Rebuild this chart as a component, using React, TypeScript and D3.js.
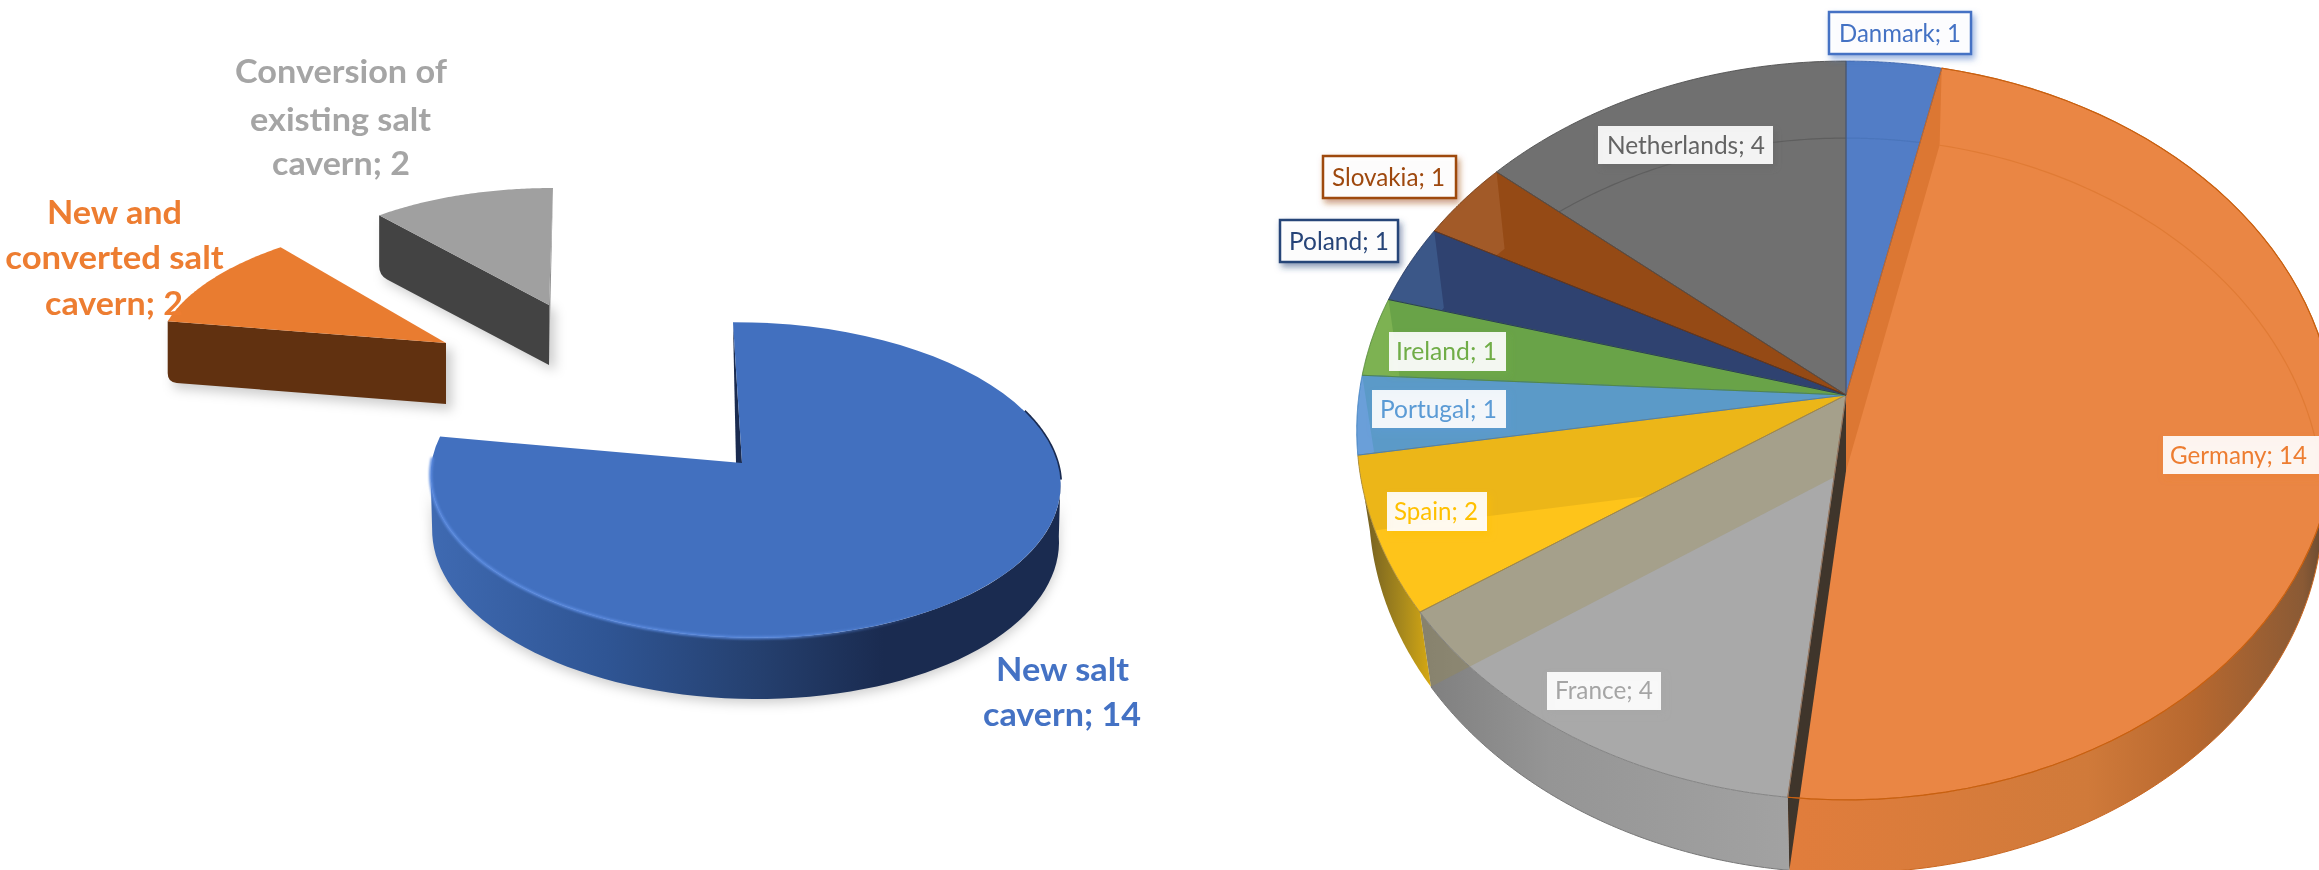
import React from "react";
import * as d3 from "d3";

// Storage project counts by cavern type (exploded 3D pie on the left)
const typeCategories = ["New salt cavern", "New and converted salt cavern", "Conversion of existing salt cavern"];
const typeValues = [14, 2, 2];
const typeLineWords = [[2, 2], [2, 2, 2], [2, 2, 2]];

// Storage project counts by country (translucent 3D pie on the right)
const countryCategories = ["Danmark", "Germany", "France", "Spain", "Portugal", "Ireland", "Poland", "Slovakia", "Netherlands"];
const countryValues = [1, 14, 4, 2, 1, 1, 1, 1, 4];

// Text colours of the series
const typeColors = ["#4472c4", "#ed7d31", "#a5a5a5"];
const countryColors = ["#4472c4", "#ed7d31", "#a5a5a5", "#ffc000", "#5b9bd5", "#70ad47", "#264478", "#9e480e", "#636363"];

// Seen colours of the translucent top surface
const countryTop = ["#527dc6", "#ea8644", "#a9a9a9", "#fec41a", "#6a9fd9", "#7db252", "#3b5788", "#a25a28", "#707070"];
const countryInner = [null, null, null, null, "#5b9ac8", "#69a348", "#2f4270", "#954a15", null];
const countryStroke = ["#3f66ad", "#c9661f", "#7d7d7d", "#a8893a", "#3f7fc0", "#55883a", "#24355c", "#6e3510", "#505050"];

type Cam = { cx: number; cy: number; R: number; S: number; k: number; j: number; sk: number; D: number; m: number };

// Perspective cameras of the pie discs
const blueCam: Cam = { cx: 742, cy: 463, R: 313, S: 156, k: 0.1076, j: 0.008, sk: 10, D: 55.8, m: 0.005 };
const orangeCam: Cam = { cx: 446, cy: 343, R: 287, S: 125, k: 0, j: 0, sk: -25, D: 61, m: 0 };
const grayCam: Cam = { cx: 549, cy: 305, R: 269, S: 117, k: 0, j: 0, sk: -4, D: 60, m: 0 };
const countryCam: Cam = { cx: 1846, cy: 395, R: 487, S: 366, k: 0.096, j: 0, sk: 0, D: 78, m: 0.025 };

const project = (c: Cam, a: number, z = 0, r = 1): [number, number] => {
  const u = Math.sin(a) * r;
  const v = -Math.cos(a) * r;
  const d = 1 - c.k * v - c.j * u + c.m * z;
  return [c.cx + (c.R * u + c.sk * v) / d, c.cy + (c.S * v + c.D * z) / d];
};

const arc = (c: Cam, a0: number, a1: number, z = 0, n = 72): [number, number][] => {
  const t = d3.scaleLinear().domain([0, n]).range([a0, a1]);
  return d3.range(n + 1).map((i) => project(c, t(i), z));
};

const closed = d3.line().curve(d3.curveLinearClosed);
const open = d3.line();
const rad = (deg: number) => (deg * Math.PI) / 180;

const pieLayout = d3.pie<number>().sort(null).startAngle(0).endAngle(2 * Math.PI);
const typeArcs = pieLayout(typeValues);
const countryArcs = pieLayout(countryValues);

const sector = (c: Cam, a0: number, a1: number) => closed([project(c, 0, 0, 0), ...arc(c, a0, a1)])!;
const radialFace = (c: Cam, a: number) =>
  closed([project(c, 0, 0, 0), project(c, a, 0), project(c, a, 1), project(c, 0, 1, 0)])!;
const rimWall = (c: Cam, a0: number, a1: number) => closed([...arc(c, a0, a1), ...arc(c, a1, a0, 1)])!;

// Radial face whose lower outer corner is softened by the bevel
const bevelledFace = (c: Cam, a: number, radius: number) => {
  const top = project(c, a, 0);
  const foot = project(c, a, 1);
  const apex = project(c, 0, 0, 0);
  const apexFoot = project(c, 0, 1, 0);
  const toward = (p: [number, number], q: [number, number], len: number): [number, number] => {
    const h = Math.hypot(q[0] - p[0], q[1] - p[1]);
    return [p[0] + ((q[0] - p[0]) * len) / h, p[1] + ((q[1] - p[1]) * len) / h];
  };
  const before = toward(foot, top, radius);
  const after = toward(foot, apexFoot, radius);
  const p = d3.path();
  p.moveTo(apex[0], apex[1]);
  p.lineTo(top[0], top[1]);
  p.lineTo(before[0], before[1]);
  p.quadraticCurveTo(foot[0], foot[1], after[0], after[1]);
  p.lineTo(apexFoot[0], apexFoot[1]);
  p.closePath();
  return p.toString();
};

// Multi-line bold labels of the left pie
const typeLabelX = [[1062.5, 1062], [114.5, 114.5, 114], [341, 340.5, 341]];
const typeLabelW = [[133, 158], [135, 218.5, 138], [212, 181, 138]];
const typeLabelY = [[681, 726], [224, 269, 315], [83, 131, 175]];

// Boxed labels of the right pie: box x, y, width, height, text x, text width, baseline
const boxX = [1829, 2163, 1547, 1387, 1372, 1389, 1280, 1323, 1598];
const boxY = [12, 436, 672, 492, 390, 332, 220, 156, 126];
const boxW = [142, 156, 114, 100, 134, 117, 118, 133, 175];
const boxH = [42, 38, 38, 39, 38, 39, 42, 42, 38];
const textX = [1839, 2170, 1555, 1394, 1380, 1396, 1289, 1332, 1607];
const textW = [122, 137, 98, 84, 117, 101, 100, 113, 158];
const baseY = [42, 464, 699, 520, 418, 360, 250, 186, 154];
const framed = [true, false, false, false, false, false, true, true, false];

const wrapLines = (label: string, counts: number[]) => {
  const words = label.split(" ");
  let at = 0;
  return counts.map((n) => {
    const line = words.slice(at, at + n).join(" ");
    at += n;
    return line;
  });
};

export default function App() {
  const [blue, orange, gray] = typeArcs;
  const cc = countryCam;

  return (
    <svg
      width={2319}
      height={870}
      viewBox="0 0 2319 870"
      style={{ position: "absolute", left: 0, top: 0, background: "#fff" }}
      fontFamily="Lato"
    >
      <defs>
        <linearGradient id="blueWall" gradientUnits="userSpaceOnUse" x1={429} x2={1060} y1={0} y2={0}>
          <stop offset="0" stopColor="#3f6ab2" />
          <stop offset="0.28" stopColor="#2f5594" />
          <stop offset="0.52" stopColor="#25406f" />
          <stop offset="0.72" stopColor="#1a2b50" />
          <stop offset="1" stopColor="#1a2b50" />
        </linearGradient>
        <linearGradient id="blueBevel" gradientUnits="userSpaceOnUse" x1={429} x2={930} y1={0} y2={0}>
          <stop offset="0" stopColor="#5b8be0" stopOpacity="1" />
          <stop offset="0.7" stopColor="#5b8be0" stopOpacity="0.85" />
          <stop offset="1" stopColor="#5b8be0" stopOpacity="0" />
        </linearGradient>
        <linearGradient id="germanyWall" gradientUnits="userSpaceOnUse" x1={1790} x2={2330} y1={0} y2={0}>
          <stop offset="0" stopColor="#e17d3c" />
          <stop offset="0.55" stopColor="#d07a3a" />
          <stop offset="0.75" stopColor="#b7682f" />
          <stop offset="0.95" stopColor="#8a5a35" />
          <stop offset="1" stopColor="#5e4630" />
        </linearGradient>
        <linearGradient id="franceWall" gradientUnits="userSpaceOnUse" x1={1420} x2={1790} y1={0} y2={0}>
          <stop offset="0" stopColor="#7e7e7e" />
          <stop offset="0.35" stopColor="#959595" />
          <stop offset="1" stopColor="#a2a2a2" />
        </linearGradient>
        <linearGradient id="spainWall" gradientUnits="userSpaceOnUse" x1={1360} x2={1432} y1={0} y2={0}>
          <stop offset="0" stopColor="#6d5a22" />
          <stop offset="0.6" stopColor="#a98a1c" />
          <stop offset="1" stopColor="#d8aa12" />
        </linearGradient>
        <filter id="softShadow" x="-20%" y="-20%" width="140%" height="140%">
          <feGaussianBlur stdDeviation="6" />
        </filter>
        <filter id="bevelBlur" x="-5%" y="-5%" width="110%" height="110%">
          <feGaussianBlur stdDeviation="0.9" />
        </filter>
        {countryColors.map((col, i) => (
          <filter key={i} id={`boxShadow${i}`} x="-20%" y="-30%" width="140%" height="170%">
            <feDropShadow dx={2.5} dy={4} stdDeviation={3} floodColor={col} floodOpacity={0.55} />
          </filter>
        ))}
        {countryArcs.map((d, i) => (
          <clipPath key={i} id={`slice${i}`}>
            <path d={sector(cc, d.startAngle, d.endAngle)} />
          </clipPath>
        ))}
      </defs>

      {/* Soft ground shadows under the left pie */}
      <g filter="url(#softShadow)" fill="#000" fillOpacity={0.2}>
        <path d={rimWall(blueCam, rad(96), rad(264))} transform="translate(0,4)" />
        <path d={radialFace(orangeCam, orange.startAngle)} transform="translate(6,6)" />
        <path d={radialFace(grayCam, gray.startAngle)} transform="translate(6,6)" />
      </g>

      {/* Exploded grey wedge */}
      <path d={bevelledFace(grayCam, gray.startAngle, 9)} fill="#434343" />
      <path
        d={closed([project(grayCam, 0, 0, 0), project(grayCam, gray.endAngle, 0), project(grayCam, 0, 1, 0)])!}
        fill="#8f8f8f"
      />
      <path d={sector(grayCam, gray.startAngle, gray.endAngle)} fill="#a0a0a0" />

      {/* Exploded orange wedge */}
      <path d={bevelledFace(orangeCam, orange.startAngle, 9)} fill="#613110" />
      <path d={sector(orangeCam, orange.startAngle, orange.endAngle)} fill="#e97c30" />

      {/* Main blue slice */}
      <path d={rimWall(blueCam, rad(96), rad(264))} fill="url(#blueWall)" />
      <path d={open(arc(blueCam, rad(70), rad(96)))!} fill="none" stroke="#1a2b50" strokeWidth={3} />
      <path
        d={closed([project(blueCam, 0, 0), project(blueCam, 0, 0, 0), [project(blueCam, 0, 0, 0)[0] - 6, blueCam.cy]])!}
        fill="#1a2b50"
      />
      <path d={sector(blueCam, blue.startAngle, blue.endAngle)} fill="#4270bf" />
      <path
        d={open(arc(blueCam, rad(120), rad(272)))!}
        fill="none"
        stroke="url(#blueBevel)"
        strokeWidth={3}
        filter="url(#bevelBlur)"
      />

      {/* Bold labels of the left pie */}
      {typeCategories.map((cat, i) =>
        wrapLines(`${cat}; ${typeValues[i]}`, typeLineWords[i]).map((line, j) => (
          <text
            key={`${i}-${j}`}
            x={typeLabelX[i][j]}
            y={typeLabelY[i][j]}
            fill={typeColors[i]}
            fontSize={33}
            fontWeight={700}
            textAnchor="middle"
            textLength={typeLabelW[i][j]}
            lengthAdjust="spacingAndGlyphs"
          >
            {line}
          </text>
        ))
      )}

      {/* Outer walls of the country pie */}
      <path d={rimWall(cc, rad(96), countryArcs[1].endAngle)} fill="url(#germanyWall)" />
      <path d={rimWall(cc, countryArcs[2].startAngle, countryArcs[2].endAngle)} fill="url(#franceWall)" />
      <path d={rimWall(cc, countryArcs[3].startAngle, countryArcs[3].endAngle)} fill="url(#spainWall)" />

      {/* Top surface, one wedge per country */}
      {countryArcs.map((d, i) => (
        <path key={i} d={sector(cc, d.startAngle, d.endAngle)} fill={countryTop[i]} />
      ))}

      {/* Darker zones where the far side of the disc shows through */}
      {countryArcs.map((d, i) =>
        countryInner[i] ? (
          <path
            key={i}
            clipPath={`url(#slice${i})`}
            fill={countryInner[i]!}
            d={closed([project(cc, 0, 0, 0), project(cc, d.endAngle), ...arc(cc, d.endAngle, d.startAngle, 1, 16), project(cc, 0, 1, 0)])!}
          />
        ) : null
      )}

      {/* Radial faces seen through the translucent top */}
      <path d={radialFace(cc, countryArcs[1].startAngle)} fill="#dc7733" clipPath="url(#slice1)" />
      <path d={radialFace(cc, countryArcs[3].endAngle)} fill="#000" fillOpacity={0.07} clipPath="url(#slice3)" />
      <path d={radialFace(cc, countryArcs[2].endAngle)} fill="#9c8c44" fillOpacity={0.3} />
      <path d={radialFace(cc, countryArcs[1].endAngle)} fill="#3f352b" />

      {/* Back rim of the lower disc, seen through the top */}
      <path d={open(arc(cc, countryArcs[8].startAngle, countryArcs[8].endAngle, 1))!} fill="none" stroke="#5e5e5e" strokeWidth={1.2} clipPath="url(#slice8)" />
      <path d={open(arc(cc, countryArcs[0].startAngle, countryArcs[0].endAngle, 1))!} fill="none" stroke="#4a75bb" strokeWidth={1.2} clipPath="url(#slice0)" />
      <path d={open(arc(cc, countryArcs[1].startAngle, rad(100), 1))!} fill="none" stroke="#e07b35" strokeWidth={1.2} />

      {/* Wedge outlines */}
      {countryArcs.map((d, i) => (
        <path key={i} d={sector(cc, d.startAngle, d.endAngle)} fill="none" stroke={countryStroke[i]} strokeWidth={1} strokeOpacity={0.9} />
      ))}
      <path d={open(arc(cc, countryArcs[1].startAngle, countryArcs[1].endAngle))!} fill="none" stroke="#c9600f" strokeWidth={1.2} />
      <path d={open(arc(cc, rad(96), countryArcs[1].endAngle, 1))!} fill="none" stroke="#c9661f" strokeWidth={1} />
      <path d={open(arc(cc, countryArcs[2].startAngle, countryArcs[2].endAngle, 1))!} fill="none" stroke="#777" strokeWidth={1} />

      {/* Boxed country labels */}
      {countryCategories.map((cat, i) => (
        <g key={cat}>
          <rect
            x={boxX[i]}
            y={boxY[i]}
            width={boxW[i]}
            height={boxH[i]}
            fill="#fff"
            fillOpacity={framed[i] ? 0.95 : 0.9}
            stroke={framed[i] ? countryColors[i] : "none"}
            strokeWidth={2.5}
            filter={`url(#boxShadow${i})`}
          />
          <text
            x={textX[i]}
            y={baseY[i]}
            fill={countryColors[i]}
            fontSize={25}
            textLength={textW[i]}
            lengthAdjust="spacingAndGlyphs"
          >
            {`${cat}; ${countryValues[i]}`}
          </text>
        </g>
      ))}
    </svg>
  );
}
